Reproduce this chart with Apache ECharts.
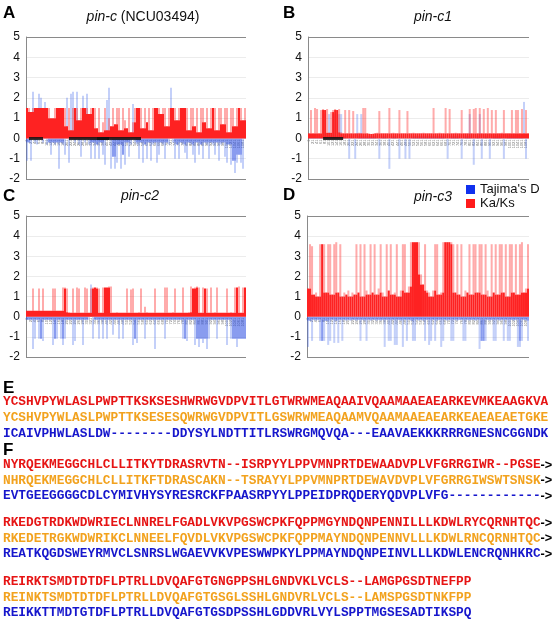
<!DOCTYPE html>
<html><head><meta charset="utf-8">
<script src="https://cdn.jsdelivr.net/npm/echarts@6/dist/echarts.min.js"></script>
<style>html,body{margin:0;padding:0;background:#fff}#c{width:558px;height:624px}</style>
</head><body><div id="c"></div>
<script>
// ---- Data ----
const redA = [1.5,1.5,1.3,1.5,1.5,1.5,1.5,1.5,1.5,1.5, 1.5,1.5,1.0,1.0,1.5,1.5,1.5,1.5,1.5,1.5,
  0.6,1.5,0.4,1.5,1.5,1.5,0.9,1.5,1.5,1.5, 1.5,1.2,1.5,1.5,1.5,0.5,1.5,0.3,0.8,1.5,
  0.4,1.0,0.6,1.5,0.7,1.5,1.5,0.4,1.5,0.9, 0.5,1.5,0.3,0.8,1.5,1.5,1.5,1.5,0.5,1.5,
  0.8,1.5,0.4,1.5,1.5,1.5,1.5,1.2,1.5,1.5, 0.6,1.5,1.5,1.5,1.5,0.9,1.5,1.5,1.5,1.5,
  1.5,0.4,1.5,1.5,0.6,1.5,0.3,1.5,1.5,0.8, 1.5,0.5,1.5,1.5,1.5,0.4,1.5,1.5,0.7,1.5,
  1.5,0.3,1.5,1.5,0.6,1.5,1.5,1.5,0.9,1.5];
const blueA = [-1.1,-0.2,-1.1,2.3,-0.2,-0.3,2.2,2.0,-0.2,1.8, -0.3,-0.2,-0.8,-0.2,-0.3,-0.2,-1.5,-0.2,-0.3,-0.8,
  2.0,-1.2,2.2,2.3,-0.2,2.3,-0.3,-0.9,2.1,-0.2, 2.2,-0.3,-1.0,-0.2,-1.0,-0.3,-1.0,-0.2,-0.8,-1.3,
  1.9,2.5,-1.5,-0.9,-1.5,-1.2,-0.3,-1.5,-0.8,-1.3, -0.2,-0.9,-0.3,1.7,-0.2,-0.3,-1.0,-0.2,-1.2,-0.3,
  -1.0,-0.2,-1.1,-0.3,-0.2,-1.2,-0.8,-0.2,-0.3,-1.0, -0.2,-0.3,2.5,-0.2,-1.0,-0.3,-1.0,-0.2,-0.3,-0.7,
  -1.0,-0.2,-0.3,-0.8,-1.2,-0.2,-0.8,-0.3,-1.0,-0.2, -0.3,-1.0,-0.2,-0.3,-0.8,-0.2,-1.1,-0.3,-0.2,-0.9,
  -1.2,-0.3,-1.3,-1.1,-1.7,-1.2,-0.8,-1.2,-1.5,0.9];
const redB = [0.25,1.4,0.25,1.5,1.45,0.25,1.4,1.45,1.4,1.45, 0.28,1.3,1.4,1.45,1.4,1.45,0.3,0.25,1.4,0.25,
  1.4,0.25,1.35,0.25,0.25,0.28,0.25,1.5,1.5,0.25, 0.25,0.22,0.25,0.25,0.28,1.35,0.25,0.25,0.25,0.25,
  1.5,0.25,0.28,0.25,0.25,1.4,0.25,0.25,0.25,1.35, 0.25,0.25,0.28,0.25,0.25,0.25,0.25,0.28,0.25,0.25,
  0.25,0.25,1.5,0.25,0.25,0.28,0.25,0.25,1.5,0.25, 1.45,0.25,0.25,0.28,0.25,0.25,1.4,0.25,0.25,0.25,
  1.45,0.25,1.45,1.5,0.25,1.5,0.25,1.45,0.25,1.5, 0.25,1.4,0.25,1.4,0.25,0.25,0.28,1.4,0.25,0.25,
  0.25,1.4,0.25,1.4,1.4,0.25,1.45,0.25,1.4,0.25];
const blueB = [0.1,0.1,0.1,0.1,0.1,0.1,0.1,0.1,1.2,0.1, 1.2,0.1,1.2,1.2,0.1,1.2,1.2,0.1,0.1,0.1,
  -1.0,0.1,0.1,-1.0,1.2,0.1,1.2,0.1,0.1,0.1, 0.1,0.1,0.1,0.1,0.1,-1.0,0.1,0.1,0.1,0.1,
  -1.5,0.1,0.1,0.1,0.1,-1.0,0.1,0.1,-1.0,0.1, -1.0,0.1,0.1,0.1,0.1,0.1,0.1,0.1,0.1,0.1,
  0.1,0.1,0.1,0.1,0.1,0.1,0.1,0.1,0.1,-1.0, 0.1,0.1,0.1,0.1,0.1,0.1,-1.0,0.1,0.1,0.1,
  1.2,0.1,-1.3,0.1,0.1,1.2,-1.0,0.1,0.1,0.1, -1.0,0.1,0.1,0.1,0.1,0.1,0.1,-1.0,0.1,0.1,
  0.1,0.1,0.1,0.1,0.1,0.1,0.1,1.8,-1.0,0.1];
const redC = [0.3,0.3,0.3,1.4,0.3,0.3,1.4,0.3,1.4,0.3, 0.3,0.3,0.3,1.4,1.4,0.3,0.3,0.3,1.45,1.45,
  1.4,0.22,0.2,1.4,0.2,1.45,1.4,0.2,0.2,1.45, 1.4,0.2,1.4,1.45,1.45,1.45,1.4,0.2,1.45,1.45,
  1.45,1.5,1.5,0.2,0.2,0.22,0.2,0.2,0.2,0.2, 1.4,0.2,1.35,1.4,0.2,0.2,0.22,1.4,0.2,0.5,
  0.22,0.2,0.2,0.2,1.4,0.2,0.2,0.2,0.2,1.45, 1.45,0.2,0.2,0.22,1.4,0.2,0.2,0.2,1.45,0.2,
  0.2,0.22,1.5,1.4,1.45,1.5,1.45,0.2,1.45,1.4, 1.4,0.2,1.45,0.2,0.22,1.45,0.2,0.2,0.2,0.2,
  1.4,0.2,0.22,0.2,1.45,1.45,1.5,0.2,1.45,1.45];
const blueC = [-0.15,-0.15,-0.15,-1.6,-1.1,-0.15,-1.1,-1.1,-1.2,-0.15, -0.15,-0.15,-0.15,-1.4,-1.1,-1.1,-0.15,-1.1,-1.4,-1.1,
  -0.15,-0.15,-0.15,-1.4,-1.2,-0.15,-0.15,-0.15,-1.4,-0.15, -0.15,-0.15,1.6,-1.1,-0.15,-0.15,-1.1,-0.15,-1.1,-0.15,
  -1.1,-0.15,-0.15,-0.9,-0.15,-0.15,-1.1,-0.15,-1.1,-0.15, -0.15,-0.15,-0.15,-1.4,-1.1,-1.3,-0.15,-0.15,-0.15,-1.1,
  -0.15,-0.15,-0.15,-0.15,-1.6,-0.15,-0.15,-0.15,-0.15,-1.1, -0.15,-0.15,-0.15,-0.15,-0.15,-0.15,-0.15,-0.15,-1.1,-1.1,
  -1.2,-0.15,-0.15,-0.15,-1.4,-1.1,-1.5,-1.1,-1.3,-1.1, -1.6,-1.1,-0.15,-0.15,-0.15,-1.1,-0.15,-0.15,-0.15,-0.15,
  -1.4,-0.15,-1.1,-1.1,-1.1,-1.5,-1.1,-1.1,-1.1,-1.1];
const redD = [1.4,3.6,3.5,1.1,1.2,1.0,3.6,3.6,3.6,1.2, 3.6,3.6,1.1,3.6,3.7,1.2,3.6,1.0,1.2,1.1,
  1.3,1.0,1.2,1.1,3.6,1.2,3.6,1.0,3.6,1.3, 1.1,3.6,1.2,3.6,1.1,1.4,3.6,1.2,1.0,3.6,
  1.3,3.6,1.1,1.2,3.6,1.0,1.3,3.6,3.6,1.2, 1.5,3.7,3.7,3.7,3.7,3.7,2.1,1.6,3.6,1.3,
  1.2,1.0,1.3,3.6,3.6,1.1,1.2,3.7,3.7,3.7, 3.7,3.7,3.6,1.2,3.6,1.1,3.6,1.0,1.3,1.2,
  3.6,1.1,3.6,3.6,1.2,3.6,3.6,1.1,3.6,1.3, 1.0,3.6,1.2,3.6,1.1,3.6,3.6,1.2,3.6,1.0,
  3.6,3.6,1.2,3.6,1.1,3.6,3.7,1.2,1.4,3.6];
const blueD = [-1.5,-0.2,-1.2,-0.15,-0.2,-0.15,-1.2,-1.2,-1.2,-0.2, -1.4,-1.2,-0.15,-1.3,-0.2,-1.3,-0.15,-1.2,-0.15,-0.2,
  -0.15,-0.2,-0.15,-0.15,-0.2,-0.15,-1.2,-0.15,-0.2,-1.2, -0.15,-0.2,-0.15,-0.15,-0.2,-0.15,-0.2,-0.15,-1.5,-0.15,
  -1.2,-1.2,-0.15,-1.4,-1.4,-0.15,-0.2,-1.5,-0.15,-1.2, -0.15,-0.2,-1.2,-1.2,-0.15,-0.2,-0.15,-0.2,-1.2,-0.15,
  -1.4,-1.2,-0.15,-1.2,-0.2,-0.15,-1.5,-1.2,-0.15,-0.2, -0.15,-1.2,-1.2,-0.15,-0.2,-0.15,-0.15,-1.2,-1.2,-0.15,
  -0.2,-0.15,-0.15,-0.2,-0.15,-1.6,-1.2,-1.2,-1.2,-0.15, -0.2,-0.15,-1.2,-1.2,-0.15,-0.2,-0.15,-1.2,-0.15,-1.2,
  -1.2,-0.15,-0.2,-0.15,-1.5,-1.5,-1.2,-0.15,-0.2,-1.2];
// black domain bars on the zero line: [startIndex, endIndex]
const domA = [[1,8],[21,41],[35,57]];
const domB = [[7,17]];
const domC = [];
const domD = [];
const yTicks = [-2,-1,0,1,2,3,4,5];
const titles = ['pin-c', 'pin-c1', 'pin-c2', 'pin-c3'];
const titleSuffix = [' (NCU03494)', '', '', ''];
const letters = ['A','B','C','D','E','F'];
const legendNames = ["Tajima's D", 'Ka/Ks'];
const seqE = [
  ['YCSHVPYWLASLPWPTTKSKSESHWRWGVDPVITLGTWRWMEAQAAIVQAAMAAEAEARKEVMKEAAGKVA', ''],
  ['YCSHVPYWLASLPWPTTKSESESQWRWGVDPVITLGSWRWMEAQAAMVQAAMAAEAEARKEAEAEAETGKE', ''],
  ['ICAIVPHWLASLDW--------DDYSYLNDTTITLRSWRGMQVQA---EAAVAEKKKRRRGNESNCGGNDK', '']
];
const seqF = [
  ['NYRQEKMEGGCHLCLLITKYTDRASRVTN--ISRPYYLPPVMNPRTDEWAADVPLVFGRRGIWR--PGSE', '->'],
  ['NHRQEKMEGGCHLCLLITKFTDRASCAKN--TSRAYYLPPVMNPRTDEWAVDVPLVFGRRGIWSWTSNSK', '->'],
  ['EVTGEEGGGGCDLCYMIVHYSYRESRCKFPAASRPYYLPPEIDPRQDERYQDVPLVFG------------', '->'],
  ['RKEDGTRDKWDWRIECLNNRELFGADLVKVPGSWCPKFQPPMGYNDQNPENNILLLKDWLRYCQRNHTQC', '->'],
  ['RKEDETRGKWDWRIKCLNNEELFQVDLVKVPGSWCPKFQPPMAYNDQNPENNVLLLKDWLRNCQRNHTQC', '->'],
  ['REATKQGDSWEYRMVCLSNRSLWGAEVVKVPESWWPKYLPPMAYNDQNPEINVLLLKDWLENCRQNHKRC', '->'],
  ['REIRKTSMDTDTDFLPTRLLDVQAFGTGNGPPSHLGNDVKLVCLS--LAMGPGSDTNEFPP', ''],
  ['REINKTSMDTDTDFLPTRLLDVQAFGTGSGLSSHLGNDVRLVCLS--LAMSPGSDTNKFPP', ''],
  ['REIKKTTMDTGTDFLPTRLLDVQAFGTGSDPSSHLGDDVRLVYLSPPTMGSESADTIKSPQ', '']
];

// ---- Layout / styles ----
const panels = [
  {red: redA, blue: blueA, dom: domA, grid: {left: 26, top: 37, width: 220, height: 142}, title: [143, 17], letter: [3, 14]},
  {red: redB, blue: blueB, dom: domB, grid: {left: 308, top: 37, width: 221, height: 142}, title: [433, 17], letter: [283, 14]},
  {red: redC, blue: blueC, dom: domC, grid: {left: 26, top: 216, width: 220, height: 141}, title: [140, 196], letter: [3, 197]},
  {red: redD, blue: blueD, dom: domD, grid: {left: 307, top: 216, width: 222, height: 141}, title: [433, 197], letter: [283, 196]}
];
const RED = '#fe2222', RED_L = 'rgba(255,45,45,0.4)';
const BLUE = 'rgba(40,75,225,0.55)', BLUE_L = 'rgba(60,100,235,0.3)';
const seqColors = ['#e61414', '#f2a21e', '#1616cc'];

// split each bar into the part shared with both neighbours (solid) and the isolated remainder (light)
function split(arr) {
  const solid = [], light = [];
  arr.forEach((v, i) => {
    const a = i > 0 ? arr[i - 1] : arr[i + 1], b = i < arr.length - 1 ? arr[i + 1] : arr[i - 1];
    let s;
    if (v >= 0) s = Math.min(v, Math.min(a > 0 ? a : 0, b > 0 ? b : 0));
    else s = Math.max(v, Math.max(a < 0 ? a : 0, b < 0 ? b : 0));
    solid.push(+s.toFixed(3)); light.push(+(v - s).toFixed(3));
  });
  return {solid, light};
}

const grids = [], xAxes = [], yAxes = [], series = [], graphics = [];
const ymin = yTicks[0], ymax = yTicks[yTicks.length - 1];
panels.forEach((p, g) => {
  grids.push(p.grid);
  const cats = p.red.map((_, i) => String(i * 10 + 1));
  xAxes.push({type: 'category', gridIndex: g, data: cats, boundaryGap: true,
    axisLine: {show: false}, axisTick: {show: false}, axisLabel: {show: false}, splitLine: {show: false}});
  yAxes.push({type: 'value', gridIndex: g, min: ymin, max: ymax, interval: 1,
    axisLine: {show: true, lineStyle: {color: '#8a8a8a'}}, axisTick: {show: false},
    axisLabel: {fontSize: 12, color: '#111', margin: 6, fontFamily: 'Liberation Sans'},
    splitLine: {show: true, lineStyle: {color: ['#8a8a8a', '#ececec', '#ececec', '#ececec', '#ececec', '#ececec', '#ececec', '#8a8a8a']}}});
  const b = split(p.blue), r = split(p.red);
  const common = {type: 'bar', xAxisIndex: g, yAxisIndex: g, barWidth: '100%', barGap: '-100%', barCategoryGap: 0, animation: false, silent: true};
  series.push(Object.assign({}, common, {name: legendNames[0], stack: 'b' + g, data: b.solid, itemStyle: {color: BLUE}}));
  series.push(Object.assign({}, common, {name: legendNames[0], stack: 'b' + g, data: b.light, itemStyle: {color: BLUE_L}}));
  series.push(Object.assign({}, common, {name: legendNames[1], stack: 'r' + g, data: r.solid, itemStyle: {color: RED},
    markLine: {silent: true, symbol: 'none', animation: false, label: {show: false},
      lineStyle: {color: '#111', width: 3, type: 'solid', opacity: 0.85},
      data: p.dom.map(([s, e]) => [{coord: [cats[s], 0]}, {coord: [cats[e], 0]}])}}));
  series.push(Object.assign({}, common, {name: legendNames[1], stack: 'r' + g, data: r.light, itemStyle: {color: RED_L}}));
  graphics.push({type: 'text', left: p.letter[0], top: p.letter[1] - 9, style: {text: letters[g], font: 'bold 17px "Liberation Sans"', fill: '#000'}});
  graphics.push({type: 'text', x: p.title[0], y: p.title[1], style: {
    text: '{i|' + titles[g] + '}' + titleSuffix[g], align: 'center', verticalAlign: 'middle',
    font: '14px "Liberation Sans"', fill: '#111', rich: {i: {fontStyle: 'italic', fontSize: 14, fontFamily: 'Liberation Sans'}}}});
});
// tiny window labels hanging just below the zero line (a second grid per panel whose top edge sits on y = 0)
panels.forEach((p, g) => {
  const cats = p.red.map((_, i) => String(i * 10 + 1));
  const zeroY = p.grid.top + p.grid.height * ymax / (ymax - ymin);
  grids.push({left: p.grid.left, width: p.grid.width, top: zeroY, height: p.grid.top + p.grid.height - zeroY});
  xAxes.push({type: 'category', gridIndex: 4 + g, data: cats, position: 'top', boundaryGap: true,
    axisLine: {show: false}, axisTick: {show: false}, splitLine: {show: false},
    axisLabel: {inside: true, interval: 1, rotate: 90, fontSize: 4, color: '#777', margin: 1}});
  yAxes.push({type: 'value', gridIndex: 4 + g, min: 0, max: 1, show: false});
});

// sequence panels
graphics.push({type: 'text', left: 3, top: 389 - 9, style: {text: letters[4], font: 'bold 17px "Liberation Sans"', fill: '#000'}});
graphics.push({type: 'text', left: 3, top: 451 - 9, style: {text: letters[5], font: 'bold 17px "Liberation Sans"', fill: '#000'}});
const seqFont = {fontFamily: 'Liberation Mono', fontWeight: 'bold', fontSize: 12.8};
const arrowFont = {fontFamily: 'Liberation Sans', fontWeight: 'bold', fontSize: 12.8};
function seqLine(line, color, y) {
  graphics.push({type: 'text', x: 3, y: y, style: {
    text: '{s|' + line[0] + '}' + (line[1] ? '{k|' + line[1] + '}' : ''), verticalAlign: 'middle',
    rich: {s: Object.assign({fill: color}, seqFont), k: Object.assign({fill: '#000'}, arrowFont)}}});
}
const yE = [402, 418, 434];
seqE.forEach((l, i) => seqLine(l, seqColors[i], yE[i]));
const yF = [465, 480.5, 496, 523, 538.5, 554, 582, 597.5, 613];
seqF.forEach((l, i) => seqLine(l, seqColors[i % 3], yF[i]));

const chart = echarts.init(document.getElementById('c'), null, {renderer: 'canvas'});
chart.setOption({
  animation: false,
  backgroundColor: '#fff',
  grid: grids, xAxis: xAxes, yAxis: yAxes, series: series,
  legend: {data: [{name: legendNames[0], itemStyle: {color: '#1030ee'}}, {name: legendNames[1], itemStyle: {color: '#ff1a1a'}}],
    orient: 'vertical', left: 461, top: 178, itemWidth: 9, itemHeight: 9, itemGap: 1, icon: 'rect', selectedMode: false,
    textStyle: {fontSize: 13, color: '#111', fontFamily: 'Liberation Sans'}},
  graphic: graphics
});
</script></body></html>
